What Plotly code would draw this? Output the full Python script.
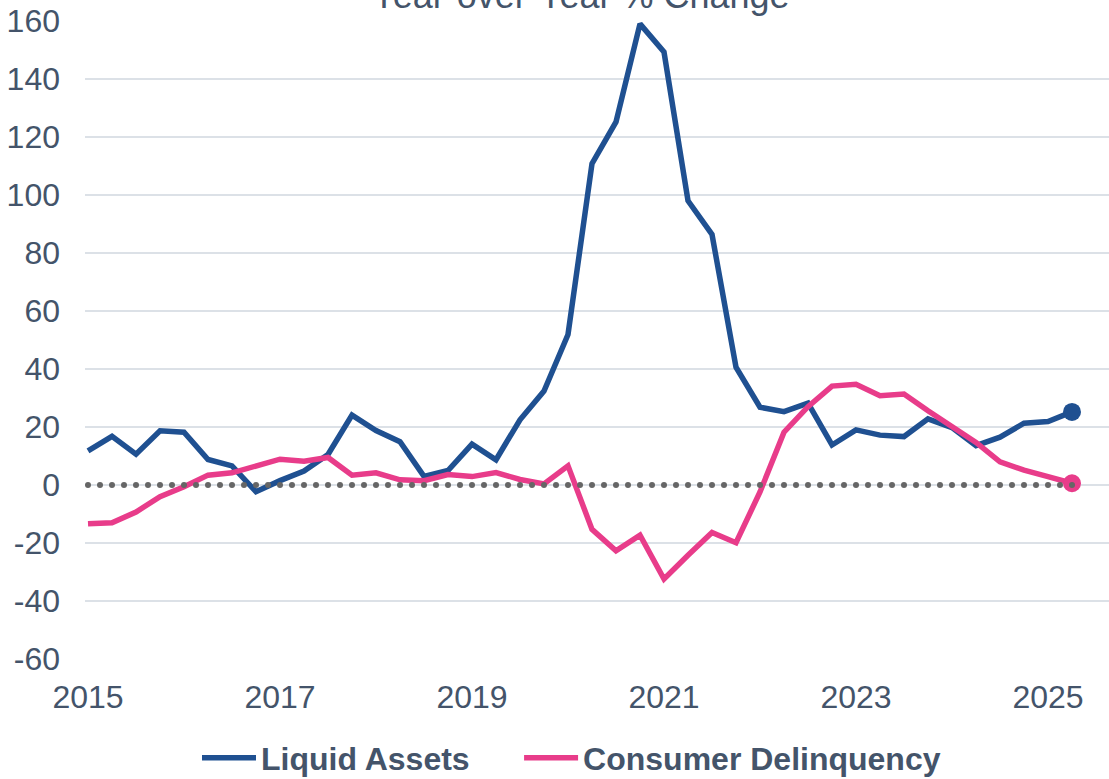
import numpy as np
import plotly.graph_objects as go

# Quarterly dates 2015Q1 .. 2025Q2 (decimal years)
years = [y for y in range(2015, 2026) for _ in range(4)][:42]
quarters = [q for _ in range(2015, 2026) for q in range(1, 5)][:42]
x_dates = [y + (q - 1) / 4 for y, q in zip(years, quarters)]

liquid_assets = [
    11.8, 16.8, 10.6, 18.7,
    18.2, 8.8, 6.6, -2.3,
    1.5, 4.8, 10.5, 24.1,
    18.8, 14.9, 3.0, 5.0,
    14.1, 8.7, 22.5, 32.4,
    51.9, 110.8, 125.2, 159.0,
    149.3, 98.0, 86.4, 40.6,
    26.8, 25.3, 28.2, 13.8,
    19.0, 17.2, 16.7, 22.8,
    19.8, 13.6, 16.5, 21.3,
    21.9, 25.2,
]

consumer_delinquency = [
    -13.4, -13.0, -9.3, -4.0,
    -0.6, 3.4, 4.2, 6.7,
    8.9, 8.2, 9.5, 3.4,
    4.2, 1.8, 1.5, 3.6,
    2.9, 4.3, 1.9, 0.4,
    6.6, -15.3, -22.7, -17.3,
    -32.4, -24.2, -16.4, -19.9,
    -2.4, 18.2, 27.0, 34.1,
    34.7, 30.8, 31.4, 25.6,
    20.1, 14.7, 8.0, 5.1,
    2.9, 0.6,
]

series_names = ["Liquid Assets", "Consumer Delinquency"]
tick_years = [2015, 2017, 2019, 2021, 2023, 2025]
tick_labels = ["2015", "2017", "2019", "2021", "2023", "2025"]
y_ticks = list(range(-60, 161, 20))
y_labels = [str(v) for v in y_ticks]  # plain hyphen minus like the original

BLUE = "#1F5091"
PINK = "#E83C8A"
TEXT = "#44546A"
GRID = "#DCE1E7"
DOT = "#666666"
FONT = "Liberation Sans, Arial, sans-serif"
NBSP = "\u00a0"

fig = go.Figure()

fig.add_trace(go.Scatter(x=x_dates, y=liquid_assets, mode="lines",
                         name=series_names[0] + NBSP * 5,
                         line=dict(color=BLUE, width=5.5)))
fig.add_trace(go.Scatter(x=x_dates, y=consumer_delinquency, mode="lines",
                         name=series_names[1],
                         line=dict(color=PINK, width=5.5)))
# end-point markers
fig.add_trace(go.Scatter(x=[x_dates[-1]], y=[liquid_assets[-1]], mode="markers", showlegend=False,
                         marker=dict(color=BLUE, size=18), hoverinfo="skip"))
fig.add_trace(go.Scatter(x=[x_dates[-1]], y=[consumer_delinquency[-1]], mode="markers", showlegend=False,
                         marker=dict(color=PINK, size=18), hoverinfo="skip"))
# dotted zero reference line
zx = np.arange(x_dates[0], x_dates[-1] + 1e-9, 0.125)
fig.add_trace(go.Scatter(x=zx, y=np.zeros_like(zx), mode="markers", showlegend=False,
                         marker=dict(color=DOT, size=6), hoverinfo="skip"))

W, H = 1109, 779
ml, mr, mt, mb = 85, 0, 21, 120
pw = W - ml - mr
ph = H - mt - mb

fig.update_layout(
    width=W, height=H,
    margin=dict(l=ml, r=mr, t=mt, b=mb, pad=0, autoexpand=False),
    paper_bgcolor="white", plot_bgcolor="white",
    font=dict(family=FONT, color=TEXT, size=32),
    showlegend=True,
    legend=dict(orientation="h", x=(202 - 5 - ml) / pw, xanchor="left",
                y=-(758 - (H - mb)) / ph, yanchor="middle",
                font=dict(family=FONT, size=32, color=TEXT, weight="bold"),
                bgcolor="rgba(0,0,0,0)", itemwidth=54),
    annotations=[dict(text="Year-over-Year % Change", xref="paper", yref="paper",
                      x=(581 - ml) / pw, y=1.0 + 3 / ph, xanchor="center", yanchor="bottom",
                      showarrow=False, font=dict(family=FONT, size=36, color=TEXT))],
)

fig.update_xaxes(
    range=[2015 - 3 / 96, 2015 + (W - 88) / 96],
    tickvals=tick_years, ticktext=tick_labels,
    showgrid=False, zeroline=False, showline=False, ticks="",
    ticklabelstandoff=16, automargin=False,
    tickfont=dict(family=FONT, size=32, color=TEXT),
)
fig.update_yaxes(
    range=[-60, 160], tickvals=y_ticks, ticktext=y_labels,
    showgrid=True, gridcolor=GRID, gridwidth=2,
    zeroline=False, showline=False, ticks="",
    ticklabelstandoff=24, automargin=False,
    tickfont=dict(family=FONT, size=32, color=TEXT),
)

fig.write_html("out.html",
               config={"displayModeBar": False},
               post_script="document.body.style.margin='0';document.body.style.overflow='hidden';")
